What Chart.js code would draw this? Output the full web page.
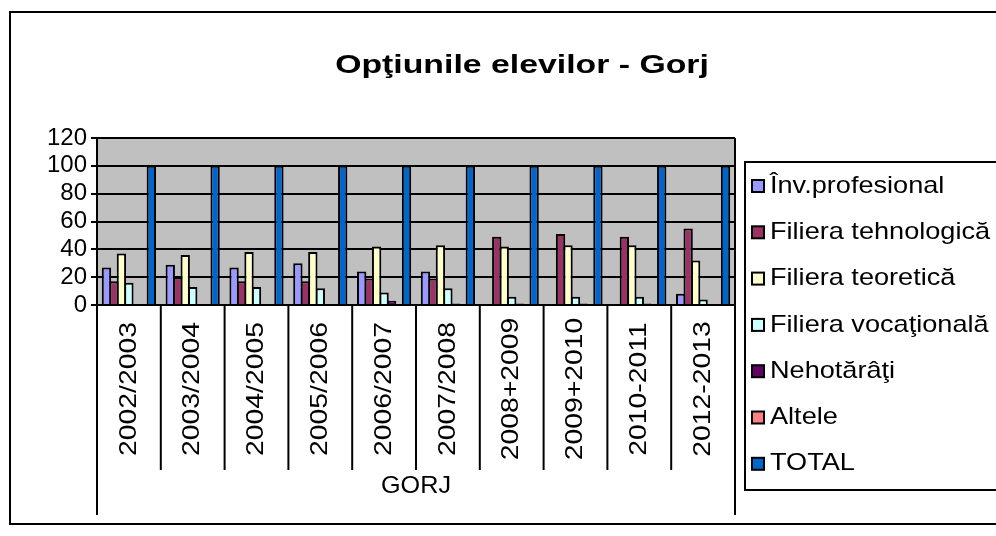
<!DOCTYPE html>
<html>
<head>
<meta charset="utf-8">
<script src="https://cdn.jsdelivr.net/npm/chart.js@4.4.0/dist/chart.umd.min.js"></script>
<style>
  html, body { margin: 0; padding: 0; background: #fff; }
  #wrap { width: 996px; height: 536px; }
</style>
</head>
<body>
<div id="wrap"><canvas id="chart"></canvas></div>
<script>
const categories = ['2002/2003', '2003/2004', '2004/2005', '2005/2006', '2006/2007',
  '2007/2008', '2008+2009', '2009+2010', '2010-2011', '2012-2013'];
const groupLabel = 'GORJ';
const titleText = 'Opţiunile elevilor - Gorj';

const invProfesional = [27, 29, 27, 30, 24, 24, 0, 0, 0, 8];
const filieraTehnologica = [17, 20, 17, 17, 19, 19, 49, 51, 49, 55];
const filieraTeoretica = [37, 36, 38, 38, 42, 43, 42, 43, 43, 32];
const filieraVocationala = [16, 13, 13, 12, 9, 12, 6, 6, 6, 4];
const nehotarati = [0, 0, 0, 0, 3, 1, 1, 1, 1, 0];
const altele = [0, 0, 0, 0, 0, 0, 0, 0, 0, 0];
const total = [100, 100, 100, 100, 100, 100, 100, 100, 100, 100];

const yTicks = [0, 20, 40, 60, 80, 100, 120];

const FONT = '"Liberation Sans", Arial, sans-serif';

const series = [
  { label: 'Înv.profesional', data: invProfesional, color: '#9999FF' },
  { label: 'Filiera tehnologică', data: filieraTehnologica, color: '#993366' },
  { label: 'Filiera teoretică', data: filieraTeoretica, color: '#FFFFCC' },
  { label: 'Filiera vocaţională', data: filieraVocationala, color: '#CCFFFF' },
  { label: 'Nehotărâţi', data: nehotarati, color: '#660066' },
  { label: 'Altele', data: altele, color: '#FF8080' },
  { label: 'TOTAL', data: total, color: '#0066CC' }
];

// text with optional horizontal stretch
function drawText(ctx, s, x, y, font, align, sx = 1) {
  ctx.save();
  ctx.font = font;
  ctx.fillStyle = '#000';
  ctx.textAlign = align;
  ctx.textBaseline = 'middle';
  ctx.translate(x, y);
  ctx.scale(sx, 1);
  ctx.fillText(s, 0, 0);
  ctx.restore();
}

const framePlugin = {
  id: 'frame',
  beforeDraw(chart) {
    const { ctx, chartArea: a } = chart;
    ctx.save();
    ctx.fillStyle = '#fff';
    ctx.fillRect(0, 0, chart.width, chart.height);
    ctx.fillStyle = '#C0C0C0';
    ctx.fillRect(a.left, a.top, a.right - a.left, a.bottom - a.top);
    ctx.restore();
  },
  afterDraw(chart) {
    const { ctx, chartArea: a } = chart;
    const x = chart.scales.x;

    ctx.save();
    ctx.strokeStyle = '#000';
    ctx.lineWidth = 2;

    // outer chart border (runs off the right edge)
    ctx.strokeRect(10, 12, 1000, 512);

    // plot right edge + category table lines
    ctx.beginPath();
    ctx.moveTo(a.right, a.top);
    ctx.lineTo(a.right, 515);
    ctx.moveTo(a.left, a.bottom);
    ctx.lineTo(a.left, 515);
    for (let i = 1; i < categories.length; i++) {
      const bx = (x.getPixelForValue(i - 1) + x.getPixelForValue(i)) / 2;
      ctx.moveTo(bx, a.bottom);
      ctx.lineTo(bx, 470);
    }
    ctx.stroke();

    // category labels, rotated
    categories.forEach((c, i) => {
      ctx.save();
      ctx.translate(x.getPixelForValue(i), 389);
      ctx.rotate(-Math.PI / 2);
      drawText(ctx, c, 0, 0, `24px ${FONT}`, 'center', 1.18);
      ctx.restore();
    });
    drawText(ctx, groupLabel, (a.left + a.right) / 2, 486, `24px ${FONT}`, 'center', 1.05);

    // title
    drawText(ctx, titleText, 522, 66, `bold 26px ${FONT}`, 'center', 1.3);

    // legend
    ctx.strokeRect(745, 162, 300, 328);
    chart.data.datasets.forEach((ds, i) => {
      const ly = 186 + i * 46.3;
      ctx.fillStyle = ds.backgroundColor;
      ctx.fillRect(752, ly - 6, 12, 12);
      ctx.lineWidth = 2;
      ctx.strokeRect(752, ly - 6, 12, 12);
      drawText(ctx, ds.label, 770, ly, `24px ${FONT}`, 'left', 1.13);
    });
    ctx.restore();
  }
};

new Chart(document.getElementById('chart').getContext('2d'), {
  type: 'bar',
  data: {
    labels: categories,
    datasets: series.map(s => ({
      label: s.label,
      data: s.data,
      backgroundColor: s.color,
      borderColor: '#000',
      borderWidth: 2,
      categoryPercentage: 0.82,
      barPercentage: 1.25 // bars overlap their neighbours' outlines, like the original
    }))
  },
  options: {
    responsive: true,
    maintainAspectRatio: false,
    animation: false,
    devicePixelRatio: 1,
    layout: { padding: { left: 0, right: 261, top: 138, bottom: 231 } },
    plugins: {
      legend: { display: false },
      title: { display: false },
      tooltip: { enabled: false }
    },
    scales: {
      x: {
        grid: { display: false },
        ticks: { display: false },
        border: { display: true, color: '#000', width: 2 },
        afterFit: (scale) => { scale.height = 0; }
      },
      y: {
        min: 0,
        max: 120,
        afterFit: (scale) => { scale.width = 97; },
        afterBuildTicks: (scale) => { scale.ticks = yTicks.map(v => ({ value: v })); },
        grid: { color: '#000', lineWidth: 2, drawTicks: true, tickLength: 6, tickColor: '#000' },
        border: { display: true, color: '#000', width: 2 },
        ticks: {
          color: '#000',
          padding: 4,
          autoSkip: false,
          font: { size: 24, family: FONT, lineHeight: 1 }
        }
      }
    }
  },
  plugins: [framePlugin]
});
</script>
</body>
</html>
